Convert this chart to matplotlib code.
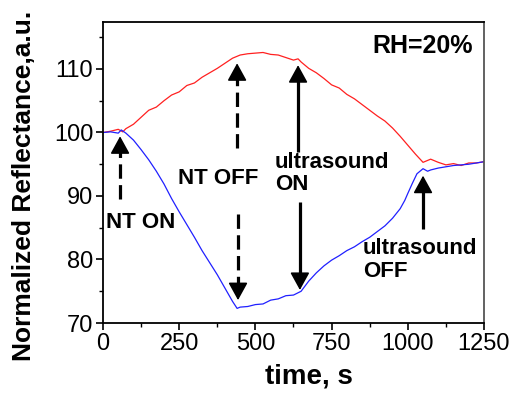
import matplotlib
matplotlib.use('Agg')
import matplotlib.pyplot as plt
import numpy as np

plt.rcParams['font.family'] = ['Liberation Sans', 'DejaVu Sans']

# red trace (RH=20%), time in s
red_t = [0, 25, 50, 65, 75, 100, 125, 150, 175, 200, 225, 250, 275, 300, 325, 350,
         375, 400, 425, 450, 475, 500, 525, 550, 575, 600, 625, 640, 650, 675, 700,
         725, 750, 775, 800, 825, 850, 875, 900, 925, 950, 975, 1000, 1025, 1050,
         1075, 1100, 1125, 1150, 1175, 1200, 1225, 1250]
red_v = [100.0, 100.2, 100.5, 100.1, 100.6, 101.3, 102.4, 103.5, 104.0, 105.0, 105.9,
         106.4, 107.4, 107.8, 108.7, 109.4, 110.1, 110.9, 111.7, 112.2, 112.4, 112.5,
         112.6, 112.3, 112.2, 111.8, 111.4, 111.6, 111.1, 110.1, 109.4, 108.5, 107.5,
         107.0, 106.0, 105.3, 104.4, 103.5, 102.6, 101.8, 100.7, 99.4, 98.0, 96.6,
         95.3, 95.8, 95.3, 94.9, 95.1, 94.8, 95.2, 95.2, 95.4]

# blue trace
blue_t = [0, 25, 50, 60, 75, 100, 125, 150, 175, 200, 225, 250, 275, 300, 325, 350,
          375, 400, 425, 440, 450, 475, 500, 525, 550, 575, 600, 625, 650, 675, 700,
          725, 750, 775, 800, 825, 850, 875, 900, 925, 950, 975, 990, 1000, 1015,
          1030, 1050, 1065, 1075, 1100, 1125, 1150, 1175, 1200, 1225, 1250]
blue_v = [100.0, 100.1, 99.9, 100.4, 99.9, 98.8, 97.3, 95.7, 93.9, 91.9, 89.6, 87.5,
          85.5, 83.5, 81.4, 79.5, 77.6, 75.5, 73.4, 72.3, 72.5, 72.6, 72.9, 73.0, 73.6,
          73.8, 74.3, 74.4, 75.0, 76.6, 77.9, 79.0, 79.9, 80.6, 81.4, 82.0, 82.8, 83.5,
          84.4, 85.3, 86.5, 88.0, 89.3, 90.4, 92.0, 93.5, 94.3, 93.9, 94.1, 94.4, 94.6,
          94.8, 94.9, 95.0, 95.2, 95.4]

# arrows: (x, tail y, tip y, dashed)
ARROWS = [(56, 89.5, 99.4, True),
          (440, 97.5, 110.9, True),
          (443, 87.1, 73.6, True),
          (640, 97.0, 110.6, False),
          (646, 89.0, 75.2, False),
          (1050, 84.8, 93.2, False)]

# labels: (x, y, text, ha, va)
LABELS = [(10, 85.9, 'NT ON', 'left', 'center'),
          (246, 92.8, 'NT OFF', 'left', 'center'),
          (564, 97.0, 'ultrasound\nON', 'left', 'top'),
          (853, 83.4, 'ultrasound\nOFF', 'left', 'top'),
          (1212, 113.6, 'RH=20%', 'right', 'center')]

fig = plt.figure(figsize=(5.15, 4.0), dpi=100)
ax = fig.add_axes([0.2, 0.1925, 0.7398, 0.7525])

ax.plot(red_t, red_v, color='#ff2020', lw=0.9)
ax.plot(blue_t, blue_v, color='#2020ff', lw=0.9)

for x, y0, y1, dashed in ARROWS:
    d = 1.5 if y1 > y0 else -1.5
    ls = (0, (4.5, 2)) if dashed else '-'
    ax.plot([x, x], [y0, y1 - d], color='black', lw=2.3, linestyle=ls, solid_capstyle='butt')
    ax.annotate('', xy=(x, y1), xytext=(x, y1 - d),
                arrowprops=dict(arrowstyle='-|>,head_length=0.6,head_width=0.33',
                                color='black', lw=1.2, shrinkA=0, shrinkB=0,
                                mutation_scale=18))

for x, y, txt, ha, va in LABELS:
    fs = 18 if txt.startswith('RH') else 16
    ax.text(x, y, txt, ha=ha, va=va, fontsize=fs, fontweight='bold', linespacing=1.1)

ax.set_xlim(0, 1250)
ax.set_ylim(70, 117.4)
ax.set_xticks([0, 250, 500, 750, 1000, 1250])
ax.set_xticks(np.arange(125, 1250, 250), minor=True)
ax.set_yticks([70, 80, 90, 100, 110])
ax.set_yticks([75, 85, 95, 105, 115], minor=True)
ax.tick_params(which='major', direction='out', length=5, width=1.2, labelsize=17, pad=2)
ax.tick_params(which='minor', direction='out', length=3, width=1.0)
for s in ax.spines.values():
    s.set_linewidth(1.3)
ax.spines['right'].set_color('#555555')

ax.set_xlabel('time, s', fontsize=20, fontweight='bold')
ax.xaxis.set_label_coords(0.54, -0.135)
ax.set_ylabel('Normalized Reflectance,a.u.', fontsize=19, fontweight='bold')
ax.yaxis.set_label_coords(-0.177, 0.455)

fig.savefig('out.png', dpi=100)
